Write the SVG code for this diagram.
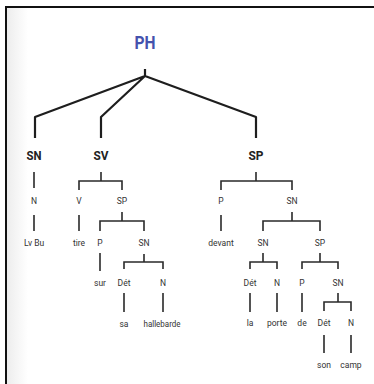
<svg xmlns="http://www.w3.org/2000/svg" width="374" height="384" viewBox="0 0 374 384">
<defs>
<linearGradient id="edge" x1="0" y1="0" x2="1" y2="0">
<stop offset="0" stop-color="#ececec"/>
<stop offset="1" stop-color="#ffffff"/>
</linearGradient>
<style>
.big{font-family:Roboto,"Liberation Sans",sans-serif;font-size:13px;font-weight:bold;fill:#222;text-anchor:middle}
.top{font-family:Roboto,"Liberation Sans",sans-serif;font-size:17.5px;font-weight:bold;fill:#4552ad;text-anchor:middle}
.sm{font-family:Roboto,"Liberation Sans",sans-serif;font-size:8.5px;fill:#333;text-anchor:middle}
.c1{stroke:#1e1e1e;stroke-width:2.2;fill:none;stroke-linejoin:round}
.c2{stroke:#2a2a2a;stroke-width:1.6;fill:none}
.frame{stroke:#111;stroke-width:2;fill:none}
</style>
</defs>
<rect width="374" height="384" fill="#fff"/>
<rect x="6" y="7" width="22" height="377" fill="url(#edge)"/>
<path class="frame" d="M6 384 V7 H374"/>

<g id="connectors">
<path class="c1" d="M145 69 V76 M145 76 L35 117 V138 M145 76 L101 117 V138 M145 76 L256 117 V138"/>
<path class="c2" d="M34 172 V188 M34 215 V231"/>
<path class="c2" d="M101 172 V181 M79 190 V181 H122 V190"/>
<path class="c2" d="M79 215 V231"/>
<path class="c2" d="M122 212 V221 M100 231 V221 H144 V231"/>
<path class="c2" d="M100 253 V271"/>
<path class="c2" d="M144 254 V262 M124 269 V262 H163 V269"/>
<path class="c2" d="M124 293 V312 M163 293 V312"/>
<path class="c2" d="M256 172 V181 M221 190 V181 H292 V190"/>
<path class="c2" d="M221 215 V231"/>
<path class="c2" d="M292 212 V221 M263 231 V221 H320 V231"/>
<path class="c2" d="M263 253 V262 M250 269 V262 H277 V269"/>
<path class="c2" d="M250 293 V312 M277 293 V312"/>
<path class="c2" d="M320 253 V262 M302 269 V262 H338 V269"/>
<path class="c2" d="M302 293 V312"/>
<path class="c2" d="M338 293 V302 M324 311 V302 H351 V311"/>
<path class="c2" d="M324 335 V353 M351 335 V353"/>
</g>

<g id="n-PH"><text class="top" x="145" y="49" textLength="21" lengthAdjust="spacingAndGlyphs">PH</text></g>
<g id="n-SN1"><text class="big" x="34" y="160" textLength="15" lengthAdjust="spacingAndGlyphs">SN</text></g>
<g id="n-SV"><text class="big" x="101" y="160" textLength="15" lengthAdjust="spacingAndGlyphs">SV</text></g>
<g id="n-SP1"><text class="big" x="256" y="160" textLength="15" lengthAdjust="spacingAndGlyphs">SP</text></g>

<g id="n-N1"><text class="sm" x="34" y="204">N</text></g>
<g id="n-LvBu"><text class="sm" x="34" y="246">Lv Bu</text></g>

<g id="n-V"><text class="sm" x="79" y="204">V</text></g>
<g id="n-tire"><text class="sm" x="79" y="246">tire</text></g>
<g id="n-SP2"><text class="sm" x="122" y="204">SP</text></g>
<g id="n-P1"><text class="sm" x="100" y="246">P</text></g>
<g id="n-sur"><text class="sm" x="100" y="286">sur</text></g>
<g id="n-SN2"><text class="sm" x="144" y="246">SN</text></g>
<g id="n-Det1"><text class="sm" x="124" y="286">Dét</text></g>
<g id="n-sa"><text class="sm" x="124" y="327">sa</text></g>
<g id="n-N2"><text class="sm" x="163" y="286">N</text></g>
<g id="n-hallebarde"><text class="sm" x="162" y="327" textLength="37" lengthAdjust="spacingAndGlyphs">hallebarde</text></g>

<g id="n-P2"><text class="sm" x="221" y="204">P</text></g>
<g id="n-devant"><text class="sm" x="221" y="246">devant</text></g>
<g id="n-SN3"><text class="sm" x="292" y="204">SN</text></g>
<g id="n-SN4"><text class="sm" x="263" y="246">SN</text></g>
<g id="n-Det2"><text class="sm" x="250" y="286">Dét</text></g>
<g id="n-la"><text class="sm" x="250" y="326">la</text></g>
<g id="n-N3"><text class="sm" x="277" y="286">N</text></g>
<g id="n-porte"><text class="sm" x="277" y="326">porte</text></g>
<g id="n-SP3"><text class="sm" x="320" y="246">SP</text></g>
<g id="n-P3"><text class="sm" x="302" y="286">P</text></g>
<g id="n-de"><text class="sm" x="302" y="326">de</text></g>
<g id="n-SN5"><text class="sm" x="338" y="286">SN</text></g>
<g id="n-Det3"><text class="sm" x="324" y="326">Dét</text></g>
<g id="n-N4"><text class="sm" x="351" y="326">N</text></g>
<g id="n-son"><text class="sm" x="324" y="368">son</text></g>
<g id="n-camp"><text class="sm" x="351" y="368">camp</text></g>
</svg>
